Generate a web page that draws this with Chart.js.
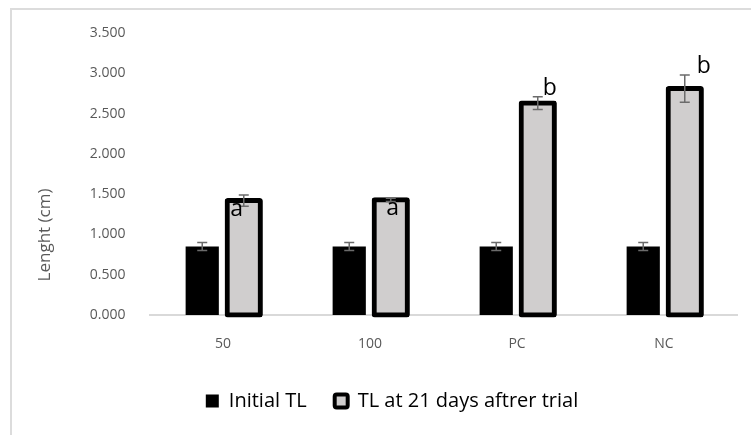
<!DOCTYPE html>
<html>
<head>
<meta charset="utf-8">
<script src="https://cdn.jsdelivr.net/npm/chart.js@4.4.1/dist/chart.umd.min.js"></script>
<style>
  html, body { margin: 0; padding: 0; background: #fff; }
  #frame { position: absolute; left: 10px; top: 8px; width: 800px; height: 500px;
           border-left: 2px solid #dcdcdc; border-top: 2px solid #dcdcdc; }
  #chart { position: absolute; left: 0; top: 0; }
</style>
</head>
<body>
<div id="frame"></div>
<canvas id="chart" width="751" height="435"></canvas>
<script>
const categories = ["50", "100", "PC", "NC"];
const seriesNames = ["Initial TL", "TL at 21 days aftrer trial"];
const initialTL = [0.85, 0.85, 0.85, 0.85];
const initialErr = [0.05, 0.05, 0.05, 0.05];
const finalTL = [1.42, 1.43, 2.63, 2.81];
const finalErr = [0.07, 0.02, 0.08, 0.17];
const letters = ["a", "a", "b", "b"];
const yTicks = [0, 0.5, 1, 1.5, 2, 2.5, 3, 3.5];

const FONT = "'Open Sans', sans-serif";
const GREY_TEXT = "#595959";

// letter placement relative to the top of each grey bar (px)
const letterOffsets = [[-7, 15], [2, 15], [12, -8], [19, -16]];

const errorBars = {
    id: "errorBars",
    afterDatasetsDraw(chart) {
        const ctx = chart.ctx;
        const y = chart.scales.y;
        const errs = [initialErr, finalErr];
        const vals = [initialTL, finalTL];
        ctx.save();
        ctx.strokeStyle = "#6b6b6b";
        ctx.lineWidth = 1.5;
        [0, 1].forEach(d => {
            chart.getDatasetMeta(d).data.forEach((bar, i) => {
                const top = y.getPixelForValue(vals[d][i] + errs[d][i]);
                const bot = y.getPixelForValue(vals[d][i] - errs[d][i]);
                ctx.beginPath();
                ctx.moveTo(bar.x, top); ctx.lineTo(bar.x, bot);
                ctx.moveTo(bar.x - 5, top); ctx.lineTo(bar.x + 5, top);
                ctx.moveTo(bar.x - 5, bot); ctx.lineTo(bar.x + 5, bot);
                ctx.stroke();
            });
        });
        // significance letters
        ctx.fillStyle = "#000";
        ctx.font = "23px " + FONT;
        ctx.textAlign = "center";
        ctx.textBaseline = "alphabetic";
        chart.getDatasetMeta(1).data.forEach((bar, i) => {
            ctx.fillText(letters[i], bar.x + letterOffsets[i][0], bar.y + letterOffsets[i][1]);
        });
        ctx.restore();
    },
    afterDraw(chart) {
        const ctx = chart.ctx;
        ctx.save();
        ctx.translate(45, 235);
        ctx.rotate(-Math.PI / 2);
        ctx.fillStyle = GREY_TEXT;
        ctx.font = "17px " + FONT;
        ctx.textAlign = "center";
        ctx.textBaseline = "middle";
        ctx.fillText("Lenght (cm)", 0, 0);
        ctx.restore();
    }
};

new Chart(document.getElementById("chart").getContext("2d"), {
    type: "bar",
    data: {
        labels: categories,
        datasets: [
            {
                label: seriesNames[0],
                data: initialTL,
                backgroundColor: "#000000",
                borderWidth: 0,
                inflateAmount: 0,
                categoryPercentage: 0.565,
                barPercentage: 0.8,
            },
            {
                label: seriesNames[1],
                data: finalTL,
                backgroundColor: "#d0cece",
                borderColor: "#000000",
                borderWidth: 5,
                borderSkipped: false,
                borderRadius: 3,
                inflateAmount: 2.5,
                categoryPercentage: 0.565,
                barPercentage: 0.8,
                clip: false,
            }
        ]
    },
    options: {
        responsive: false,
        devicePixelRatio: 1,
        animation: false,
        layout: { padding: { top: 33, left: 46.5, right: 13.5, bottom: 14 } },
        plugins: {
            tooltip: { enabled: false },
            legend: {
                position: "bottom",
                labels: {
                    font: { family: FONT, size: 20 },
                    color: GREY_TEXT,
                    boxWidth: 13,
                    boxHeight: 13,
                    padding: 28,
                    generateLabels: () => [
                        { text: seriesNames[0], fillStyle: "#000", strokeStyle: "#000", lineWidth: 0, datasetIndex: 0, hidden: false },
                        { text: seriesNames[1], fillStyle: "#d0cece", strokeStyle: "#000", lineWidth: 4, borderRadius: 2, datasetIndex: 1, hidden: false }
                    ]
                }
            }
        },
        scales: {
            x: {
                z: 1,
                grid: { display: false, drawTicks: false },
                border: { display: true, color: "#d9d9d9", width: 2 },
                ticks: { font: { family: FONT, size: 14 }, color: GREY_TEXT, padding: 21 },
                afterFit: s => { s.height = 48; }
            },
            y: {
                min: 0,
                max: 3.5,
                grid: { display: false, drawTicks: false },
                border: { display: false },
                afterBuildTicks: s => { s.ticks = yTicks.map(v => ({ value: v })); },
                ticks: {
                    font: { family: FONT, size: 14 },
                    color: GREY_TEXT,
                    padding: 24,
                    callback: v => v.toFixed(3)
                },
                afterFit: s => { s.width = 103; }
            }
        }
    },
    plugins: [errorBars]
});
</script>
</body>
</html>
